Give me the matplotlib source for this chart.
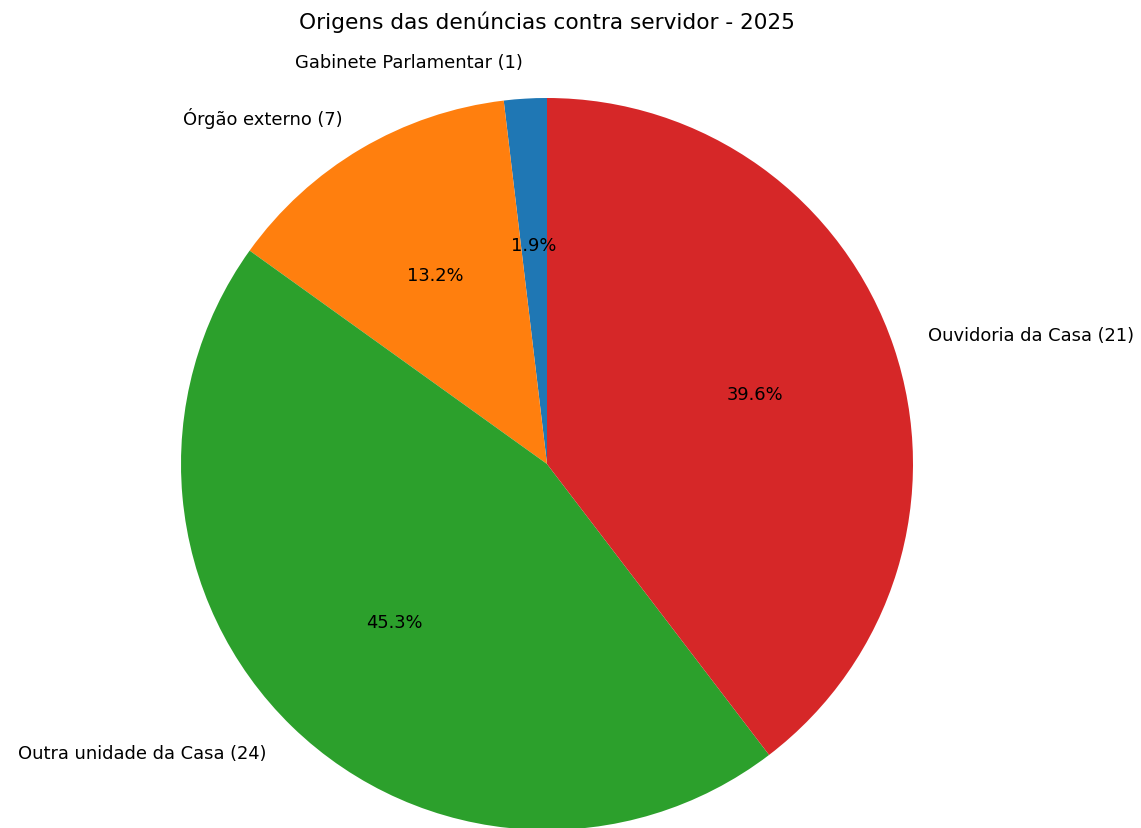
import matplotlib.pyplot as plt

labels = ["Gabinete Parlamentar", "Órgão externo", "Outra unidade da Casa", "Ouvidoria da Casa"]
counts = [1, 7, 24, 21]
colors = ["#1f77b4", "#ff7f0e", "#2ca02c", "#d62728"]

title = "Origens das denúncias contra servidor - 2025"

fig = plt.figure(figsize=(11.41, 8.29), dpi=100)
ax = fig.add_axes([0, 0, 1, 1])

wedges, texts, autotexts = ax.pie(
    counts,
    labels=[f"{l} ({c})" for l, c in zip(labels, counts)],
    colors=colors,
    autopct="%1.1f%%",
    startangle=90,
    textprops={"fontsize": 12.9},
)

# place pie: center ~ (547, 465) px, radius ~366 px
r_px = 366
cx, cy = 547, 829 - 465
ax.set_xlim(-cx / r_px, (1141 - cx) / r_px)
ax.set_ylim(-cy / r_px, (829 - cy) / r_px)
ax.set_aspect("equal")
ax.axis("off")

fig.text(547 / 1141, 1 - 22 / 829, title, ha="center", va="center", fontsize=15.6)

plt.savefig("out.png", dpi=100)
plt.close()
